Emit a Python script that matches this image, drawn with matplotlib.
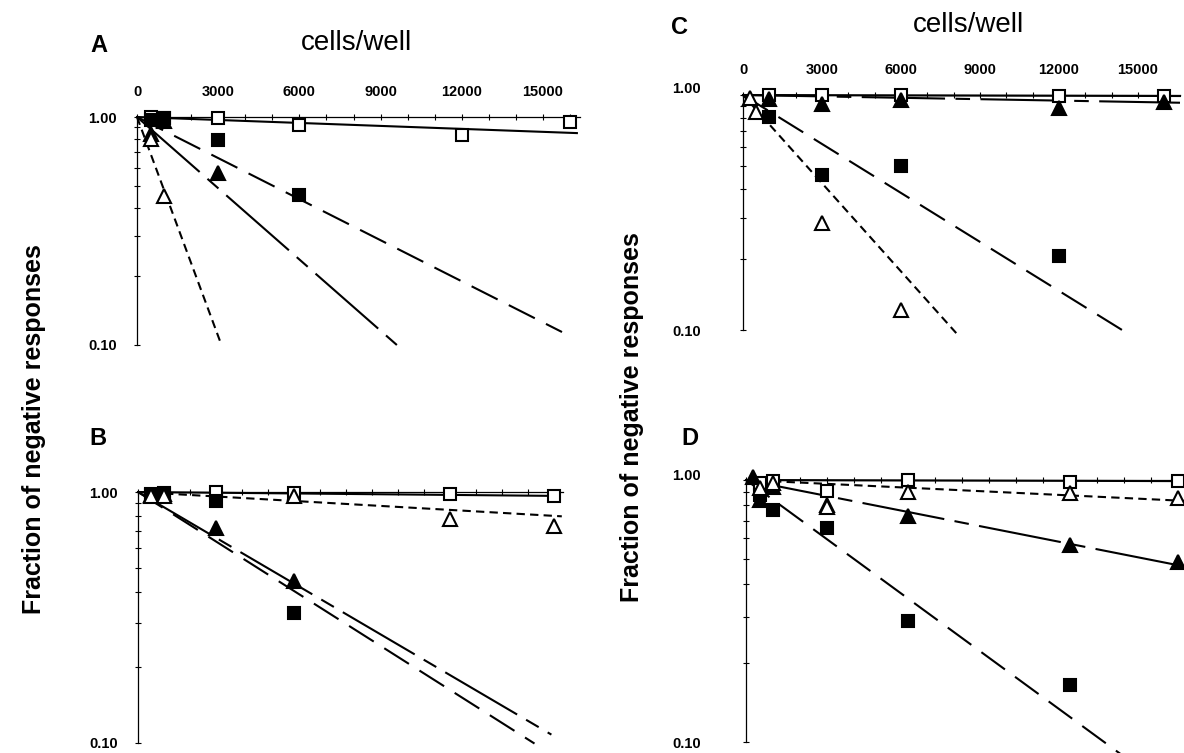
import numpy as np
import matplotlib
matplotlib.use("Agg")
import matplotlib.pyplot as plt
from matplotlib.ticker import FixedLocator, NullFormatter, FixedFormatter
from matplotlib.transforms import ScaledTranslation

# ============================================
# 1. DATOS
# ============================================

nan = np.nan
cells = [250, 500, 1000, 3000, 6000, 12000, 16000]

# Panel A
a_open_sq  = [nan, 1.00, 0.99, 0.99, 0.92, 0.83, 0.95]
a_fill_sq  = [nan, 0.97, 0.99, 0.79, 0.455, nan, nan]
a_fill_tri = [nan, 0.84, 0.96, 0.57, nan, nan, nan]
a_open_tri = [nan, 0.80, 0.45, nan, nan, nan, nan]
# fin de cada recta ajustada (todas parten de (0, 1.0)): sq abierto, sq lleno, tri lleno, tri abierto
a_fit_x = [16250, 15700, 9600, 3120]
a_fit_y = [0.85, 0.114, 0.10, 0.10]

# Panel B
b_open_sq  = [nan, 0.98, 0.99, 1.00, 0.99, 0.98, 0.96]
b_fill_sq  = [nan, 0.97, 0.98, 0.92, 0.33, nan, nan]
b_fill_tri = [nan, 0.97, 0.98, 0.72, 0.44, nan, nan]
b_open_tri = [nan, 0.965, 0.965, nan, 0.965, 0.78, 0.735]
b_fit_x = [16000, 15250, 15900, 16300]
b_fit_y = [0.965, 0.0995, 0.108, 0.80]

# Panel C
c_open_sq  = [nan, nan, 1.00, 1.00, 1.00, 0.99, 0.99]
c_fill_sq  = [nan, nan, 0.81, 0.455, 0.50, 0.207, nan]
c_fill_tri = [nan, nan, 0.96, 0.92, 0.95, 0.88, 0.93]
c_open_tri = [0.97, 0.85, nan, 0.284, 0.122, nan, nan]
c_fit_x = [16600, 14400, 16600, 8100]
c_fit_y = [0.99, 0.10, 0.927, 0.097]

# Panel D
d_open_sq  = [nan, 0.97, 0.99, 0.91, 1.00, 0.98, 0.99]
d_fill_sq  = [nan, 0.88, 0.77, 0.655, 0.29, 0.165, nan]
d_fill_tri = [1.03, 0.84, 0.94, 0.80, 0.727, 0.564, 0.488]
d_open_tri = [nan, 0.93, 0.97, 0.79, 0.90, 0.895, 0.85]
d_fit_x = [16500, 14200, 16500, 16500]
d_fit_y = [0.99, 0.085, 0.462, 0.83]

x_ticks = [0, 3000, 6000, 9000, 12000, 15000]
x_tick_labels = ["0", "3000", "6000", "9000", "12000", "15000"]
y_ticks = [0.10, 1.00]
y_tick_labels = ["0.10", "1.00"]

# ============================================
# 2. ESTILOS
# ============================================

W, H = 1184, 753
font = "Liberation Sans"

# sq abierto, sq lleno, tri lleno, tri abierto
styles = [
    dict(marker="s", mfc="white", ms=8, ls="-"),
    dict(marker="s", mfc="black", ms=8, ls=(0, (14, 6))),
    dict(marker="^", mfc="black", ms=10, ls=(0, (40, 5, 7, 5))),
    dict(marker="^", mfc="white", ms=10, ls=(0, (4, 2.5))),
]

fig = plt.figure(figsize=(W / 100, H / 100), dpi=100)


def add_panel(left, top, right, bottom, xmax, series, fit_x, fit_y, labels, ypad, lift):
    ax = fig.add_axes([left / W, 1 - bottom / H, (right - left) / W, (bottom - top) / H])
    ax.set_yscale("log")
    ax.set_ylim(0.1, 1.0)
    ax.set_xlim(0, xmax)
    ax.patch.set_alpha(0)
    for s in ["bottom", "right"]:
        ax.spines[s].set_visible(False)
    for s in ["top", "left"]:
        ax.spines[s].set_linewidth(0.9)

    for vals, xe, ye, st in zip(series, fit_x, fit_y, styles):
        ax.plot([0, xe], [1.0, ye], color="black", lw=1.5, ls=st["ls"],
                clip_on=False, zorder=2)
        ax.plot(cells, vals, ls="none", marker=st["marker"], ms=st["ms"],
                mfc=st["mfc"], mec="black", mew=1.5, clip_on=False, zorder=3)

    ax.xaxis.set_ticks_position("top")
    ax.xaxis.set_major_locator(FixedLocator(x_ticks))
    ax.xaxis.set_minor_locator(FixedLocator(np.arange(0, xmax, 1000)))
    ax.xaxis.set_major_formatter(FixedFormatter(x_tick_labels))
    ax.tick_params(axis="x", which="both", direction="inout", length=4, width=0.8,
                   labeltop=labels, labelbottom=False, pad=11)
    ax.yaxis.set_major_locator(FixedLocator(y_ticks))
    ax.yaxis.set_major_formatter(FixedFormatter(y_tick_labels))
    ax.yaxis.set_minor_locator(FixedLocator([0.2, 0.3, 0.4, 0.5, 0.6, 0.7, 0.8, 0.9]))
    ax.yaxis.set_minor_formatter(NullFormatter())
    ax.tick_params(axis="y", which="both", direction="inout", length=5, width=0.8, pad=ypad)
    for t in ax.get_xticklabels() + ax.get_yticklabels():
        t.set_fontfamily(font)
        t.set_fontweight("bold")
        t.set_fontsize(10.5)
    # en los paneles de la derecha "1.00" queda un poco por encima del eje
    if lift:
        off = ScaledTranslation(0, lift / 100, fig.dpi_scale_trans)
        ax.get_yticklabels()[1].set_transform(ax.get_yticklabels()[1].get_transform() + off)
    return ax


# ============================================
# 3. PANELES
# ============================================

add_panel(137, 117, 580, 345, 16365, [a_open_sq, a_fill_sq, a_fill_tri, a_open_tri],
          a_fit_x, a_fit_y, True, 12, 0)
add_panel(138, 492, 563, 743, 16346, [b_open_sq, b_fill_sq, b_fill_tri, b_open_tri],
          b_fit_x, b_fit_y, False, 12, 0)
add_panel(743, 95, 1180, 330, 16600, [c_open_sq, c_fill_sq, c_fill_tri, c_open_tri],
          c_fit_x, c_fit_y, True, 28, 8)
add_panel(746, 480, 1190, 742, 16444, [d_open_sq, d_fill_sq, d_fill_tri, d_open_tri],
          d_fit_x, d_fit_y, False, 30, 5)

# textos
def ftext(x, y, s, **kw):
    fig.text(x / W, 1 - y / H, s, ha="center", va="center", family=font, **kw)

ftext(99, 45, "A", fontsize=17, fontweight="bold")
ftext(98, 438, "B", fontsize=17, fontweight="bold")
ftext(680, 28, "C", fontsize=17, fontweight="bold")
ftext(690, 438, "D", fontsize=17, fontweight="bold")
ftext(357, 43, "cells/well", fontsize=20)
ftext(968, 25, "cells/well", fontsize=20)
ftext(34, 429, "Fraction of negative responses", fontsize=18, fontweight="bold", rotation=90)
ftext(632, 417, "Fraction of negative responses", fontsize=18, fontweight="bold", rotation=90)

fig.savefig("out.png", dpi=100)
